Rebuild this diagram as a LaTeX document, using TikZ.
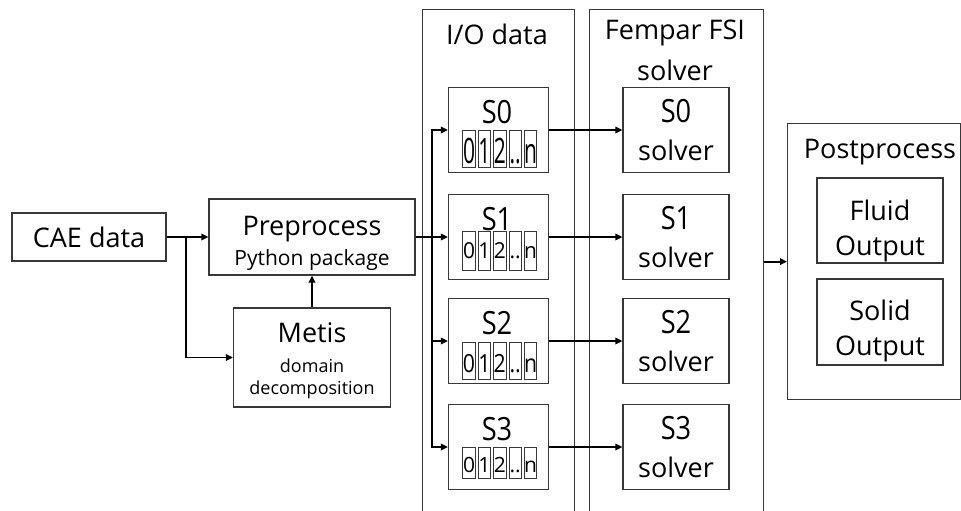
\documentclass[tikz,border=0pt]{standalone}
\usepackage{fontspec}
\setmainfont{Open Sans}
\usetikzlibrary{arrows.meta}
\begin{document}
\begin{tikzpicture}[x=1pt,y=-1pt,
  box/.style={draw=black!78, line width=1.2pt, inner sep=0pt},
  cell/.style={draw=black!78, line width=0.9pt, inner sep=0pt, minimum width=12.5pt},
  txt/.style={inner sep=0pt, anchor=base},
  arr/.style={draw=black, line width=1.8pt, -{Triangle[length=7pt,width=6.5pt]}},
  big/.style={font=\fontsize{27}{32}\selectfont},
  slab/.style={font=\fontsize{32}{36}\selectfont, xscale=0.85},
  small/.style={font=\fontsize{21}{25}\selectfont},
  tiny/.style={font=\fontsize{18}{22}\selectfont}]
\useasboundingbox (0,0) rectangle (961,511);
\clip (0,0) rectangle (961,511);

% containers
\node[box, minimum width=152pt, minimum height=530pt, anchor=north west] (io) at (422,9) {};
\node[box, minimum width=174pt, minimum height=530pt, anchor=north west] (fem) at (589,9) {};
\node[txt, big] (iot) at (497,45) {I/O data};
\node[txt, big] (femt1) at (675,40) {Fempar FSI};
\node[txt, big] (femt2) at (675,81) {solver};

% left boxes
\node[box, minimum width=154pt, minimum height=48pt] (cae) at (89,237) {};
\node[txt, big] (caet) at (89,247) {CAE data};
\node[box, minimum width=206pt, minimum height=76pt] (pre) at (312,237) {};
\node[txt, big] (pret1) at (312,235) {Preprocess};
\node[txt, small] (pret2) at (312,265) {Python package};
\node[box, minimum width=157pt, minimum height=99pt] (metis) at (312,357.5) {};
\node[txt, big] (met1) at (312,342) {Metis};
\node[txt, tiny] (met2) at (312,372) {domain};
\node[txt, tiny] (met3) at (312,394) {decomposition};

% I/O boxes and solver boxes
\foreach \i/\y/\ct/\cb/\db/\dfs/\dxs in {0/130/130/167/163/35/0.6, 1/237/231/270/258/22/0.95, 2/341/342/379/372/25/0.85, 3/447/447/478/472/21/1.0}{
  \node[box, minimum width=100pt, minimum height=85pt] (io\i) at (498.5,\y) {};
  \node[txt, slab] (iol\i) at (497,\y-7) {S\i};
  \foreach \k/\c in {0/0,1/1,2/2,3/..,4/n}{
    \node[cell, minimum height={\cb-\ct}] (c\i\k) at (469+15.4*\k,{(\ct+\cb)/2}) {};
    \node[txt, font=\fontsize{\dfs}{\dfs}\selectfont, xscale=\dxs] (d\i\k) at (469+15.4*\k,\db) {\c};
  }
  \node[box, minimum width=106pt, minimum height=85pt] (sol\i) at (676,\y) {};
  \node[txt, slab] (soll\i) at (676,\y-8) {S\i};
  \node[txt, big] (sols\i) at (676,\y+30) {solver};
}

% postprocess
\node[box, minimum width=173pt, minimum height=276pt, anchor=north west] (post) at (787,123) {};
\node[txt, big] (postt) at (880,158) {Postprocess};
\node[box, minimum width=126pt, minimum height=85pt] (fluid) at (880,220.5) {};
\node[txt, big] (fl1) at (880,220) {Fluid};
\node[txt, big] (fl2) at (880,255) {Output};
\node[box, minimum width=126pt, minimum height=86pt] (solid) at (880,322) {};
\node[txt, big] (so1) at (880,320) {Solid};
\node[txt, big] (so2) at (880,355) {Output};

% connectors
\coordinate (j1) at (186,237);
\coordinate (bus) at (432,237);
\draw[arr] (cae.east) -- (pre.west);
\draw[arr] (j1) |- (metis.west);
\draw[arr] (metis.north) -- (pre.south);
\draw[arr] (pre.east) -- (io1.west);
\draw[arr] (bus) |- (io0.west);
\draw[arr] (bus) |- (io2.west);
\draw[arr] (bus) |- (io3.west);
\foreach \i in {0,1,2,3}{
  \draw[arr] (io\i.east) -- (sol\i.west);
}
\draw[arr] (fem.east |- post.west) -- (post.west);
\end{tikzpicture}
\end{document}
